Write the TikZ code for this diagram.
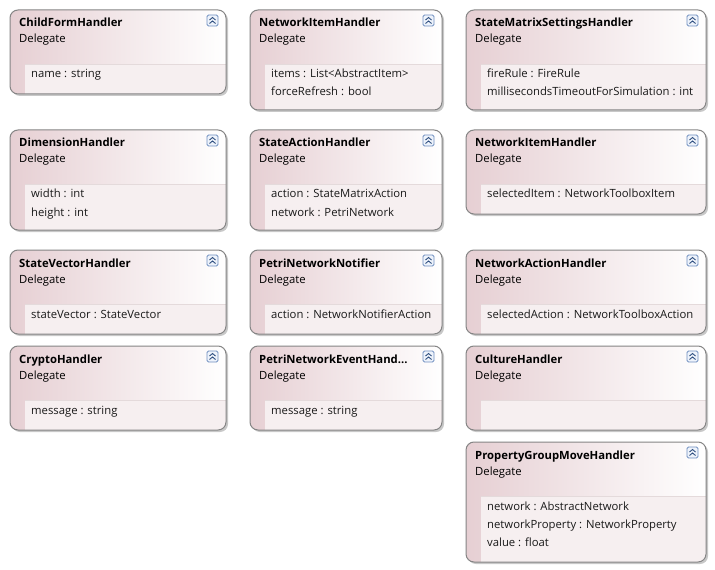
\documentclass[tikz,border=0pt]{standalone}
\usepackage{fontspec}
\setmainfont{Open Sans}
\definecolor{boxpink}{HTML}{E6CFD3}
\definecolor{compc}{HTML}{F6EFF0}
\definecolor{sepc}{HTML}{E4DADB}
\definecolor{borderc}{HTML}{858585}
\definecolor{shadowc}{HTML}{C8C8C8}
\definecolor{iconb}{HTML}{6F8FC0}
\definecolor{iconf}{HTML}{EEF3FB}
\definecolor{iconc}{HTML}{2F4F80}
\tikzset{
  boxround/.style={rounded corners=8bp},
  titletext/.style={anchor=base west, inner sep=0pt, font=\fontsize{11.3bp}{13bp}\selectfont\bfseries},
  stereotext/.style={anchor=base west, inner sep=0pt, font=\fontsize{11.3bp}{13bp}\selectfont},
  attrtext/.style={anchor=base west, inner sep=0pt, font=\fontsize{11.3bp}{13bp}\selectfont, text=black!90},
  iconbox/.style={draw=iconb, fill=iconf, rounded corners=1.5bp, line width=0.8bp},
  chev/.style={draw=iconc, line width=0.9bp},
}
% #1 id, #2 x, #3 y, #4 w, #5 h, #6 title
\newcommand{\dbox}[6]{%
  \fill[shadowc, boxround] ({#2+2},{#3+2}) rectangle ({#2+#4+2},{#3+#5+2});
  \shade[boxround, left color=boxpink, right color=white] (#2,#3) rectangle ({#2+#4},{#3+#5});
  \begin{scope}
    \clip[boxround] (#2,#3) rectangle ({#2+#4},{#3+#5});
    \fill[compc] ({#2+15},{#3+54}) rectangle ({#2+#4},{#3+#5});
    \draw[sepc, line width=0.8bp] ({#2+15},{#3+54}) -- ({#2+#4},{#3+54});
  \end{scope}
  \draw[borderc, line width=1bp, boxround] (#2,#3) rectangle ({#2+#4},{#3+#5});
  \node[titletext] (#1) at ({#2+9},{#3+17}) {#6};
  \node[stereotext] (#1-st) at ({#2+9},{#3+33}) {Delegate};
  \draw[iconbox] ({#2+#4-19},{#3+5}) rectangle ({#2+#4-8},{#3+16});
  \draw[chev] ({#2+#4-16.5},{#3+10}) -- ({#2+#4-13.5},{#3+7.5}) -- ({#2+#4-10.5},{#3+10});
  \draw[chev] ({#2+#4-16.5},{#3+13.5}) -- ({#2+#4-13.5},{#3+11}) -- ({#2+#4-10.5},{#3+13.5});
}
% #1 id, #2 x, #3 y, #4 index, #5 text
\newcommand{\dattr}[5]{%
  \node[attrtext] (#1) at ({#2+21},{#3+68+18*#4}) {#5};
}
\begin{document}
\begin{tikzpicture}[x=1bp,y=-1bp]
\useasboundingbox[fill=white] (0,0) rectangle (715,570);
% column 1
\dbox{cfh}{10}{10}{216}{84}{ChildFormHandler}
\dattr{cfh-a}{10}{10}{0}{name : string}
\dbox{dh}{10}{130}{216}{100}{DimensionHandler}
\dattr{dh-a}{10}{130}{0}{width : int}
\dattr{dh-b}{10}{130}{1}{height : int}
\dbox{svh}{10}{250}{216}{84}{StateVectorHandler}
\dattr{svh-a}{10}{250}{0}{stateVector : StateVector}
\dbox{ch}{10}{346}{216}{84}{CryptoHandler}
\dattr{ch-a}{10}{346}{0}{message : string}
% column 2
\dbox{nih}{250}{10}{192}{100}{NetworkItemHandler}
\dattr{nih-a}{250}{10}{0}{items : List<AbstractItem>}
\dattr{nih-b}{250}{10}{1}{forceRefresh : bool}
\dbox{sah}{250}{130}{192}{100}{StateActionHandler}
\dattr{sah-a}{250}{130}{0}{action : StateMatrixAction}
\dattr{sah-b}{250}{130}{1}{network : PetriNetwork}
\dbox{pnn}{250}{250}{192}{84}{PetriNetworkNotifier}
\dattr{pnn-a}{250}{250}{0}{action : NetworkNotifierAction}
\dbox{pneh}{250}{346}{192}{84}{PetriNetworkEventHand...}
\dattr{pneh-a}{250}{346}{0}{message : string}
% column 3
\dbox{smsh}{466}{10}{240}{100}{StateMatrixSettingsHandler}
\dattr{smsh-a}{466}{10}{0}{fireRule : FireRule}
\dattr{smsh-b}{466}{10}{1}{millisecondsTimeoutForSimulation : int}
\dbox{nih2}{466}{130}{240}{84}{NetworkItemHandler}
\dattr{nih2-a}{466}{130}{0}{selectedItem : NetworkToolboxItem}
\dbox{nah}{466}{250}{240}{84}{NetworkActionHandler}
\dattr{nah-a}{466}{250}{0}{selectedAction : NetworkToolboxAction}
\dbox{cuh}{466}{346}{240}{84}{CultureHandler}
\dbox{pgmh}{466}{442}{240}{120}{PropertyGroupMoveHandler}
\dattr{pgmh-a}{466}{442}{0}{network : AbstractNetwork}
\dattr{pgmh-b}{466}{442}{1}{networkProperty : NetworkProperty}
\dattr{pgmh-c}{466}{442}{2}{value : float}
\end{tikzpicture}
\end{document}
